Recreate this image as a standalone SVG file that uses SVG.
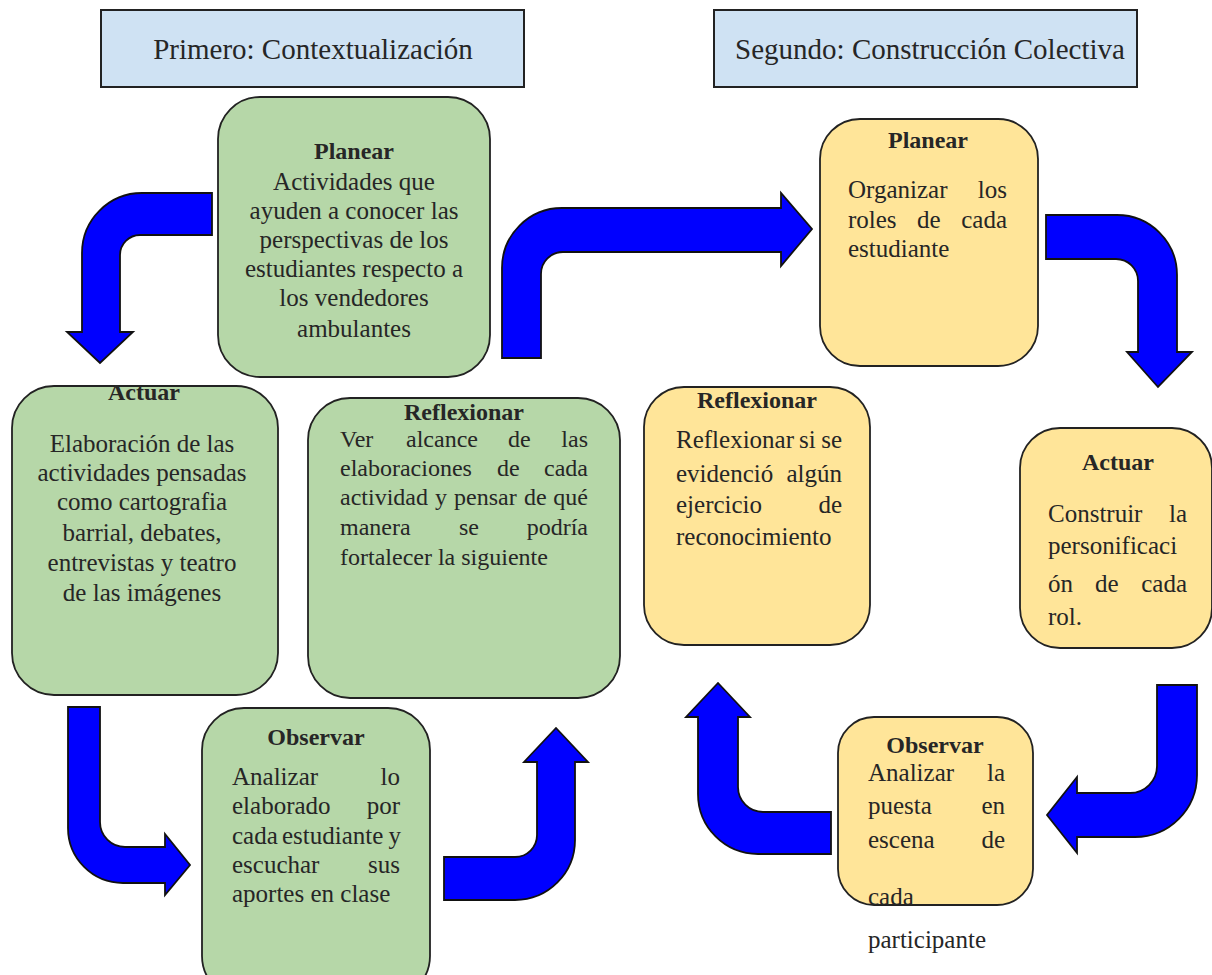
<svg xmlns="http://www.w3.org/2000/svg" width="1212" height="975" viewBox="0 0 1212 975">
<style>
.hdr{fill:#cfe2f3;stroke:#222;stroke-width:2}
.g{fill:#b6d7a8;stroke:#222;stroke-width:1.8}
.y{fill:#ffe599;stroke:#222;stroke-width:1.8}
.arr{fill:#0000ff;stroke:#111;stroke-width:1.8;stroke-linejoin:miter}
text{font-family:"Liberation Serif","Times New Roman",serif;fill:#262626}
.h{font-size:29px;text-anchor:middle}
.t{font-size:24px;font-weight:bold;text-anchor:middle}
.b{font-size:25px}
.s{font-size:24px}
.c{text-anchor:middle}
.e{text-anchor:end}
</style>
<rect width="1212" height="975" fill="#fff"/>

<g id="header-1">
<rect class="hdr" x="101" y="10" width="423" height="77"/>
<text class="h" x="313" y="59">Primero: Contextualización</text>
</g>
<g id="header-2">
<rect class="hdr" x="714" y="10" width="423" height="77"/>
<text class="h" x="930" y="59">Segundo: Construcción Colectiva</text>
</g>

<g id="connectors">
<path class="arr" d="M212 193 L142 193 A60 60 0 0 0 82 253 L82 332 L67 332 L100 363 L133 332 L120 332 L120 255 A20 20 0 0 1 140 235 L212 235 Z"/>
<path class="arr" d="M502 358 L502 268 A60 60 0 0 1 562 208 L781 208 L781 193 L812 229 L781 266 L781 252 L563 252 A22 22 0 0 0 541 274 L541 358 Z"/>
<path class="arr" d="M1046 215 L1117 215 A60 60 0 0 1 1177 275 L1177 352 L1192 352 L1158 387 L1127 352 L1138 352 L1138 281 A22 22 0 0 0 1116 259 L1046 259 Z"/>
<path class="arr" d="M1157 685 L1197 685 L1197 775 A62 62 0 0 1 1135 837 L1077 837 L1077 853 L1047 815 L1077 777 L1077 793 L1130 793 A27 27 0 0 0 1157 766 Z"/>
<path class="arr" d="M831 812 L831 854 L758 854 A60 60 0 0 1 698 794 L698 717 L686 717 L718 683 L750 717 L738 717 L738 787 A25 25 0 0 0 763 812 Z"/>
<path class="arr" d="M68 707 L100 707 L100 822 A25 25 0 0 0 125 847 L165 847 L165 834 L190 865 L165 895 L165 883 L123 883 A55 55 0 0 1 68 828 Z"/>
<path class="arr" d="M444 857 L515 857 A22 22 0 0 0 537 835 L537 762 L524 762 L556 728 L588 762 L575 762 L575 840 A60 60 0 0 1 515 900 L444 900 Z"/>
</g>

<g id="planear-1">
<rect class="g" x="218" y="97" width="272" height="280" rx="42"/>
<text class="t" x="354" y="159">Planear</text>
<text class="b c" x="354" y="190">Actividades que</text>
<text class="b c" x="354" y="219">ayuden a conocer las</text>
<text class="b c" x="354" y="248">perspectivas de los</text>
<text class="b c" x="354" y="277">estudiantes respecto a</text>
<text class="b c" x="354" y="306">los vendedores</text>
<text class="b c" x="354" y="337">ambulantes</text>
</g>

<g id="actuar-1">
<rect class="g" x="12" y="386" width="266" height="309" rx="42"/>
<text class="t" x="144" y="400">Actuar</text>
<text class="b c" x="142" y="452">Elaboración de las</text>
<text class="b c" x="142" y="481">actividades pensadas</text>
<text class="b c" x="142" y="510">como cartografia</text>
<text class="b c" x="142" y="541">barrial, debates,</text>
<text class="b c" x="142" y="571">entrevistas y teatro</text>
<text class="b c" x="142" y="601">de las imágenes</text>
</g>

<g id="reflexionar-1">
<rect class="g" x="308" y="398" width="312" height="300" rx="42"/>
<text class="t" x="464" y="420">Reflexionar</text>
<text class="s" x="340" y="447">Ver</text><text class="s" x="406" y="447">alcance</text><text class="s" x="508" y="447">de</text><text class="s e" x="588" y="447">las</text>
<text class="s" x="340" y="476">elaboraciones</text><text class="s" x="497" y="476">de</text><text class="s e" x="588" y="476">cada</text>
<text class="s" x="340" y="505">actividad</text><text class="s" x="435" y="505">y</text><text class="s" x="454" y="505">pensar</text><text class="s" x="524" y="505">de</text><text class="s e" x="588" y="505">qué</text>
<text class="s" x="340" y="535">manera</text><text class="s" x="459" y="535">se</text><text class="s e" x="588" y="535">podría</text>
<text class="s" x="340" y="565">fortalecer la siguiente</text>
</g>

<g id="observar-1">
<rect class="g" x="202" y="708" width="228" height="290" rx="42"/>
<text class="t" x="316" y="745">Observar</text>
<text class="b" x="232" y="785">Analizar</text><text class="b e" x="400" y="785">lo</text>
<text class="b" x="232" y="814">elaborado</text><text class="b e" x="400" y="814">por</text>
<text class="b" x="232" y="844">cada</text><text class="b" x="282" y="844">estudiante</text><text class="b e" x="401" y="844">y</text>
<text class="b" x="232" y="873">escuchar</text><text class="b e" x="400" y="873">sus</text>
<text class="b" x="232" y="902">aportes en clase</text>
</g>

<g id="planear-2">
<rect class="y" x="820" y="119" width="218" height="247" rx="40"/>
<text class="t" x="928" y="148">Planear</text>
<text class="b" x="848" y="198">Organizar</text><text class="b e" x="1007" y="198">los</text>
<text class="b" x="848" y="228">roles</text><text class="b" x="917" y="228">de</text><text class="b e" x="1007" y="228">cada</text>
<text class="b" x="848" y="257">estudiante</text>
</g>

<g id="actuar-2">
<rect class="y" x="1020" y="428" width="192" height="220" rx="40"/>
<text class="t" x="1118" y="470">Actuar</text>
<text class="b" x="1048" y="522">Construir</text><text class="b e" x="1187" y="522">la</text>
<text class="b" x="1048" y="554">personificaci</text>
<text class="b" x="1048" y="592">ón</text><text class="b" x="1095" y="592">de</text><text class="b e" x="1187" y="592">cada</text>
<text class="b" x="1048" y="625">rol.</text>
</g>

<g id="reflexionar-2">
<rect class="y" x="644" y="387" width="226" height="258" rx="40"/>
<text class="t" x="757" y="408">Reflexionar</text>
<text class="b" x="676" y="448">Reflexionar</text><text class="b" x="799" y="448">si</text><text class="b e" x="842" y="448">se</text>
<text class="b" x="676" y="482">evidenció</text><text class="b e" x="842" y="482">algún</text>
<text class="b" x="676" y="513">ejercicio</text><text class="b e" x="842" y="513">de</text>
<text class="b" x="676" y="545">reconocimiento</text>
</g>

<g id="observar-2">
<rect class="y" x="838" y="717" width="195" height="188" rx="36"/>
<text class="t" x="935" y="753">Observar</text>
<text class="b" x="868" y="781">Analizar</text><text class="b e" x="1005" y="781">la</text>
<text class="b" x="868" y="814">puesta</text><text class="b e" x="1005" y="814">en</text>
<text class="b" x="868" y="848">escena</text><text class="b e" x="1005" y="848">de</text>
<text class="b" x="868" y="905">cada</text>
<text class="b" x="868" y="948">participante</text>
</g>
</svg>
